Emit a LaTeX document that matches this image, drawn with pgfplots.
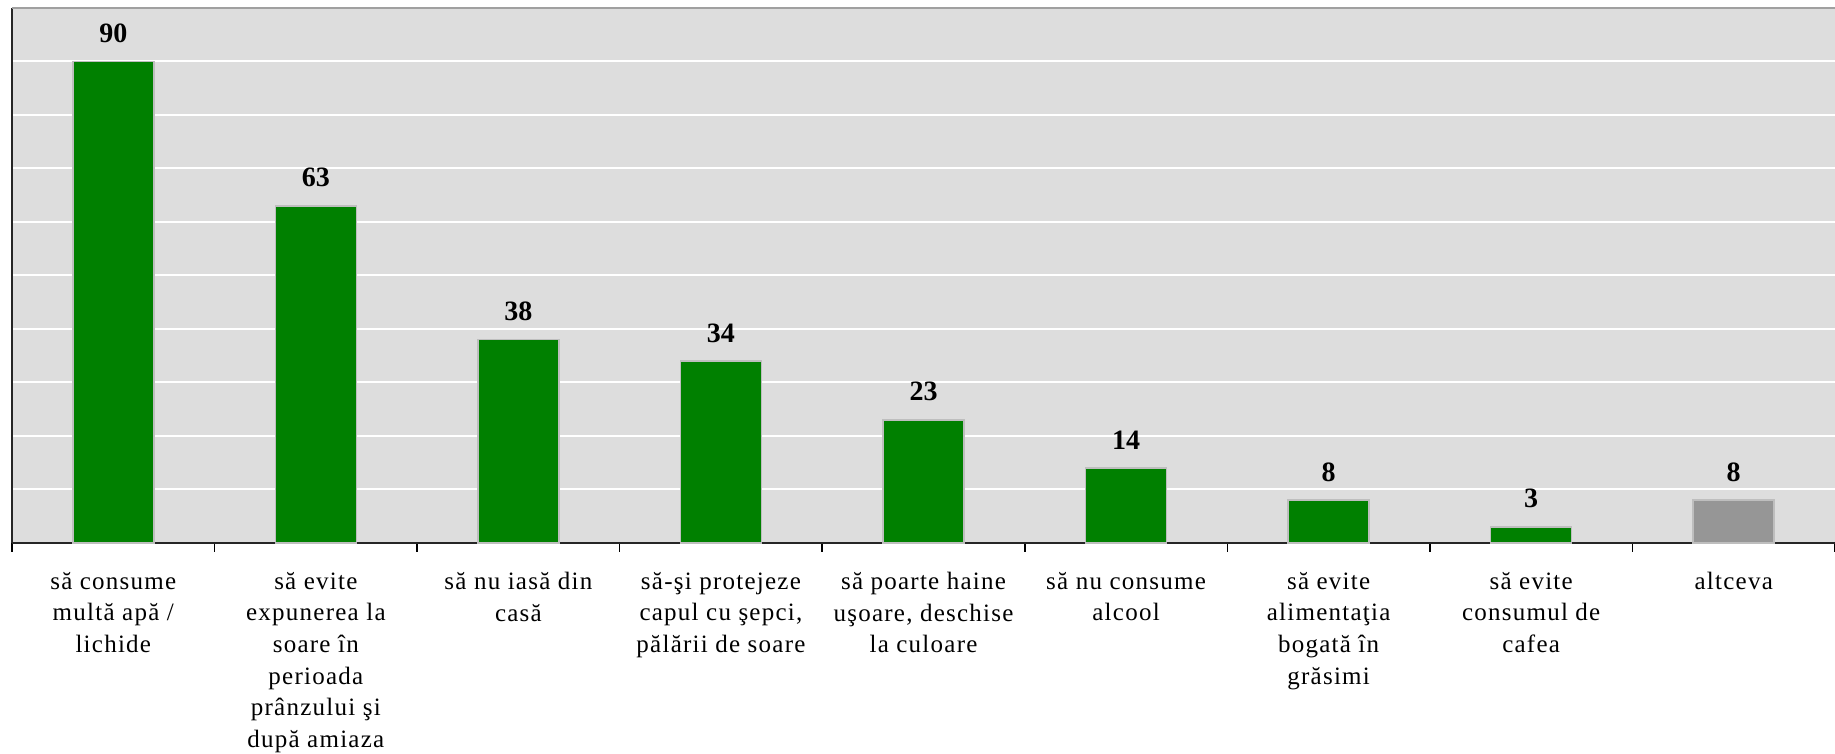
\documentclass[border=0pt]{standalone}
\usepackage{pgfplots}
\pgfplotsset{compat=1.18}
\usepackage{fontspec}
\setmainfont{Liberation Serif}
\newfontfamily\labelfont[LetterSpace=5]{Liberation Serif}
\definecolor{bgcol}{RGB}{221,221,221}
\definecolor{barg}{RGB}{0,128,0}
\definecolor{barx}{RGB}{150,150,150}
\definecolor{edgec}{RGB}{190,190,190}
\definecolor{topc}{RGB}{160,160,160}
\begin{document}
\begin{tikzpicture}
\useasboundingbox (0,0) rectangle (917.5pt,377pt);
\begin{axis}[
  at={(6pt,105.5pt)}, anchor=south west,
  width=911.5pt, height=267.5pt, scale only axis,
  ybar, bar width=40.5pt, bar shift=0pt,
  xmin=-0.5, xmax=8.5, ymin=0, ymax=100,
  axis background/.style={fill=bgcol},
  axis x line*=bottom, axis y line*=left,
  axis line style={line width=1pt, draw=black!85},
  x axis line style={-}, y axis line style={-},
  xtick={-0.5,0.5,...,8.5},
  x tick label as interval,
  tick align=outside,
  xtick style={line width=0.8pt, black},
  major tick length=4.5pt,
  ytick={10,20,...,90},
  yticklabels={},
  ytick style={draw=none},
  ymajorgrids,
  major grid style={white, line width=1pt},
  xticklabels={
    {să consume\\multă apă /\\lichide},
    {să evite\\expunerea la\\soare în\\perioada\\prânzului şi\\după amiaza},
    {să nu iasă din\\casă},
    {să-şi protejeze\\capul cu şepci,\\pălării de soare},
    {să poarte haine\\uşoare, deschise\\la culoare},
    {să nu consume\\alcool},
    {să evite\\alimentaţia\\bogată în\\grăsimi},
    {să evite\\consumul de\\cafea},
    {altceva}},
  xticklabel style={align=center, font=\labelfont\fontsize{12.5}{15.85}\selectfont, yshift=-6.5pt, anchor=north},
  nodes near coords,
  /pgf/number format/assume math mode=true,
  nodes near coords style={font=\fontsize{14}{16}\selectfont\bfseries, anchor=base, yshift=9.5pt, black},
  clip=false,
]
\addplot[fill=barg, draw=edgec, line width=0.8pt] coordinates {(0,90) (1,63) (2,38) (3,34) (4,23) (5,14) (6,8) (7,3)};
\addplot[fill=barx, draw=edgec, line width=0.8pt] coordinates {(8,8)};
\draw[draw=topc, line width=1pt] (rel axis cs:0,1) -- (rel axis cs:1,1);
\end{axis}
\end{tikzpicture}
\end{document}
